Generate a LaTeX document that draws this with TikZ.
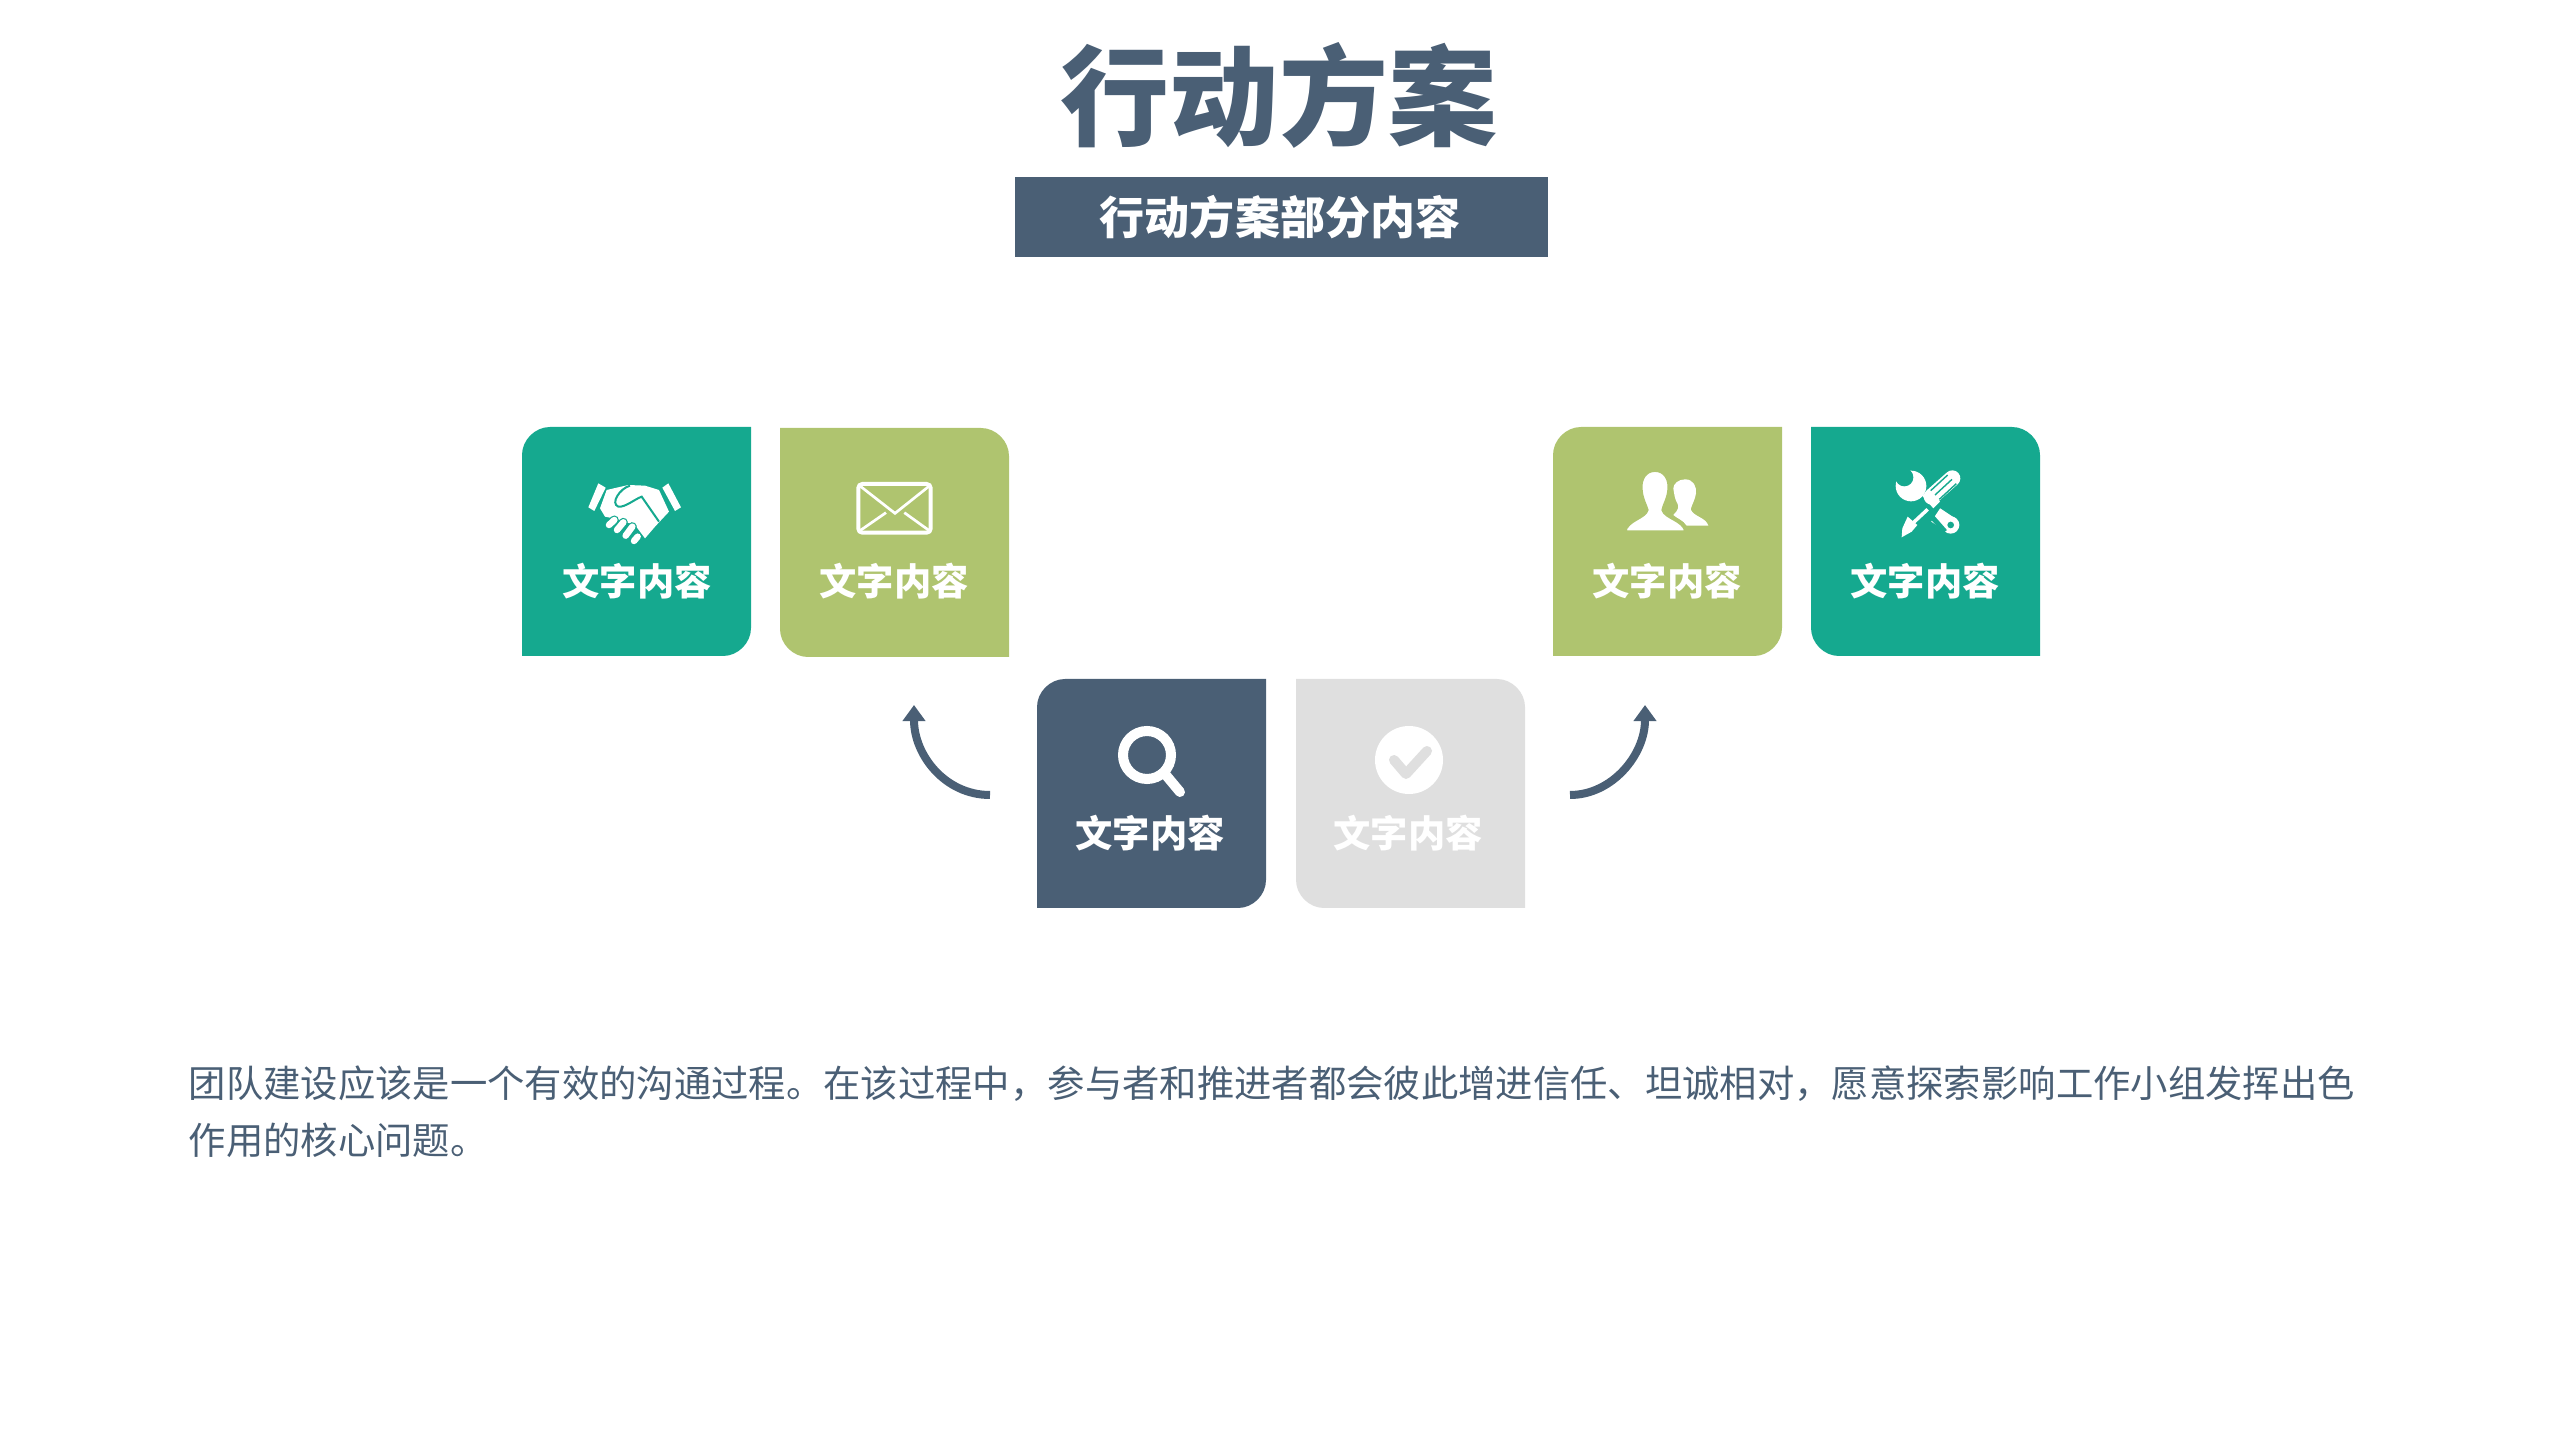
\documentclass[tikz,border=0pt]{standalone}
\usepackage{fontspec}
\setmainfont{Noto Sans CJK SC}
\usetikzlibrary{arrows.meta}
\definecolor{slate}{HTML}{4A5F75}
\definecolor{teal}{HTML}{15A98F}
\definecolor{olive}{HTML}{AFC46F}
\definecolor{pale}{HTML}{DFDFDF}
\tikzset{
  tilelabel/.style={text=white, font=\fontsize{10.6}{12}\selectfont\bfseries},
  arrowline/.style={draw=slate, line width=0.08cm, -{Triangle[width=0.22cm, length=0.16cm]}},
  zoomed/.style={scale=0.33333},
  fingeredge/.style={teal, line width=0.09cm, line cap=round},
  fingerfill/.style={white, line width=0.065cm, line cap=round}
}
\newcommand{\tileleft}[3]{
\fill[#3, shift={(#1, #2)}] (28, 0) -- (229, 0) -- (229, 201) .. controls (229, 216) and (216, 229) .. (201, 229) -- (0, 229) -- (0, 28) .. controls (0, 13) and (13, 0) .. (28, 0) -- cycle;
}
\newcommand{\tileright}[3]{
\fill[#3, shift={(#1, #2)}] (0, 0) -- (201, 0) .. controls (216, 0) and (229, 13) .. (229, 28) -- (229, 229) -- (28, 229) .. controls (13, 229) and (0, 216) .. (0, 201) -- cycle;
}
\begin{document}
\begin{tikzpicture}[x=0.01cm, y=-0.01cm]
\useasboundingbox (0, 0) rectangle (2560, 1440);
\node[text=slate, font=\fontsize{31}{34}\selectfont\bfseries] (title) at (1279, 95) {行动方案};
\fill[slate] (1015, 177) rectangle (1548, 257);
\node[text=white, font=\fontsize{12.8}{15}\selectfont\bfseries] (subtitle) at (1280, 217) {行动方案部分内容};
% top row and middle row
\tileleft{522}{427}{teal}
\tileright{780}{428}{olive}
\tileleft{1037}{679}{slate}
\tileright{1296}{679}{pale}
\tileleft{1553}{427}{olive}
\tileright{1811}{427}{teal}
\node[tilelabel] (labela) at (637, 581) {文字内容};
\node[tilelabel] (labelb) at (894, 581) {文字内容};
\node[tilelabel] (labelc) at (1150, 833) {文字内容};
\node[tilelabel] (labeld) at (1408, 833) {文字内容};
\node[tilelabel] (labele) at (1667, 581) {文字内容};
\node[tilelabel] (labelf) at (1925, 581) {文字内容};
% handshake
\begin{scope}[shift={(585, 475)}, zoomed]
\fill[white] (40, 25) -- (62, 38) -- (28, 108) -- (10, 97) -- cycle;
\fill[white] (250, 25) -- (288, 97) -- (270, 108) -- (232, 38) -- cycle;
\fill[white] (65, 45) -- (130, 30) -- (180, 32) -- (222, 45) -- (252, 110) -- (210, 155) -- (180, 190) -- (150, 150) -- (85, 130) -- (60, 125) -- (45, 100) -- cycle;
\draw[teal, line width=0.02cm] (135, 32) .. controls (105, 40) and (75, 85) .. (100, 95) .. controls (120, 98) and (150, 72) .. (170, 65) -- (222, 140);
\draw[fingeredge] (72, 150) -- (88, 135);
\draw[fingerfill] (72, 150) -- (88, 135);
\draw[fingeredge] (96, 165) -- (115, 142);
\draw[fingerfill] (96, 165) -- (115, 142);
\draw[fingeredge] (122, 182) -- (142, 155);
\draw[fingerfill] (122, 182) -- (142, 155);
\draw[fingeredge] (147, 198) -- (158, 185);
\draw[fingerfill] (147, 198) -- (158, 185);
\end{scope}
% envelope
\begin{scope}[shift={(510, 410)}, zoomed]
\draw[white, line width=0.04cm, rounded corners=0.04cm] (1045, 222) rectangle (1262, 368);
\draw[white, line width=0.027cm] (1050, 228) -- (1155, 310) -- (1258, 228);
\draw[white, line width=0.027cm] (1050, 362) -- (1128, 308);
\draw[white, line width=0.027cm] (1258, 362) -- (1183, 308);
\end{scope}
% magnifier
\draw[white, line width=0.1cm] (1147, 755) circle (24);
\draw[white, line width=0.1cm, line cap=round] (1165, 774) -- (1180, 792);
% check
\fill[white] (1409, 760) circle (34);
\draw[pale, line width=0.1cm, line join=round, line cap=round] (1394, 760) -- (1406, 774) -- (1427, 751);
% people
\begin{scope}[shift={(1540, 410)}, zoomed]
\fill[white] (435, 208) .. controls (462, 208) and (470, 232) .. (468, 250) .. controls (465, 270) and (455, 285) .. (452, 298) .. controls (460, 320) and (498, 322) .. (505, 347) -- (440, 347) .. controls (430, 330) and (410, 325) .. (400, 315) .. controls (415, 300) and (418, 290) .. (412, 280) .. controls (405, 270) and (402, 250) .. (400, 235) .. controls (400, 222) and (415, 208) .. (435, 208) -- cycle;
\fill[white, draw=olive, line width=0.025cm] (345, 182) .. controls (375, 182) and (388, 210) .. (386, 235) .. controls (385, 265) and (370, 285) .. (368, 300) .. controls (375, 325) and (430, 330) .. (437, 365) -- (255, 365) .. controls (262, 330) and (315, 325) .. (322, 300) .. controls (318, 285) and (305, 265) .. (304, 235) .. controls (302, 210) and (315, 182) .. (345, 182) -- cycle;
\end{scope}
% tools
\begin{scope}[shift={(1885, 460)}, zoomed]
\fill[white] (78, 78) circle (46);
\fill[teal] (58, 52) circle (27);
\fill[teal] (30, 25) -- (66, 25) -- (58, 52) -- (28, 62) -- cycle;
\draw[white, line width=0.16cm] (152, 165) -- (197, 195);
\fill[white] (197, 195) circle (26);
\fill[teal] (197, 195) circle (10);
\draw[teal, line width=0.05cm] (105, 130) -- (180, 215);
\draw[white, line width=0.16cm, line cap=round] (202, 55) -- (140, 110);
\fill[white] (112, 108) -- (145, 145) -- (165, 125) -- (130, 88) -- cycle;
\draw[teal, line width=0.014cm] (137, 92) -- (188, 45);
\draw[teal, line width=0.014cm] (150, 105) -- (201, 58);
\draw[teal, line width=0.014cm] (163, 118) -- (214, 71);
\draw[white, line width=0.035cm] (128, 148) -- (85, 188);
\fill[white] (68, 170) -- (97, 195) -- (80, 215) -- (50, 232) -- (52, 205) -- cycle;
\end{scope}
% arrows
\coordinate (startl) at (990, 795);
\coordinate (endl) at (914, 705);
\coordinate (startr) at (1570, 795);
\coordinate (endr) at (1645, 705);
\draw[arrowline] (startl) .. controls (945, 795) and (914, 755) .. (endl);
\draw[arrowline] (startr) .. controls (1612, 795) and (1645, 755) .. (endr);
\node[text=slate, anchor=north west, align=left, inner sep=0, font=\fontsize{10.62}{16.2}\selectfont] (body) at (188, 1065) {团队建设应该是一个有效的沟通过程。在该过程中，参与者和推进者都会彼此增进信任、坦诚相对，愿意探索影响工作小组发挥出色\\作用的核心问题。};
\end{tikzpicture}
\end{document}
